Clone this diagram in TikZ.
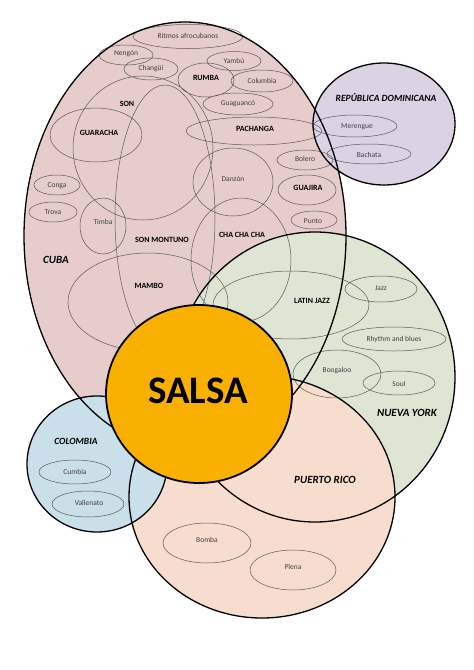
\documentclass[tikz,border=0pt]{standalone}
\usepackage{fontspec}
\setmainfont{Carlito}
\definecolor{cubapink}{RGB}{231,204,204}
\definecolor{dompurple}{RGB}{219,211,228}
\definecolor{nygreen}{RGB}{223,229,211}
\definecolor{prpeach}{RGB}{247,221,205}
\definecolor{colblue}{RGB}{201,223,233}
\definecolor{salsaorange}{RGB}{249,176,0}
\begin{document}
\begin{tikzpicture}[x=1pt,y=-1pt,
        genre/.style={draw=black!65,line width=0.5pt},
        region/.style={draw=black,line width=1.3pt},
        lab/.style={font=\fontsize{7.5}{9}\selectfont,text=black!75},
        blab/.style={font=\fontsize{8}{9}\selectfont\bfseries},
        rlab/.style={font=\fontsize{11}{13}\selectfont\bfseries\itshape},
        slab/.style={font=\fontsize{9.5}{11}\selectfont\bfseries\itshape}]
        \useasboundingbox[fill=white] (0,0) rectangle (474,670);
        % fills of the countries
        \fill[cubapink] (185,236) ellipse (161 and 214);
        \fill[dompurple] (384,124) ellipse (71 and 61);
        \fill[nygreen] (315,377) ellipse (140 and 145);
        \fill[prpeach] (262,497) ellipse (133 and 121);
        \fill[colblue] (97,464) ellipse (70 and 68);
        % genres
        \draw[genre] (188,36.5) ellipse (55 and 12) (126,55) ellipse (27 and 10) (151,69) ellipse (27 and 11)
            (234,61) ellipse (27 and 9.5) (206,80) ellipse (28 and 17) (262,81) ellipse (31 and 11)
            (238,104) ellipse (35 and 11) (254,131) ellipse (68 and 14) (305,160) ellipse (28 and 10)
            (96,135) ellipse (46 and 27) (143,148) ellipse (70 and 72) (165,218) ellipse (50 and 133)
            (57,185) ellipse (23 and 10) (53,212) ellipse (24 and 10) (103,226) ellipse (23 and 28)
            (233,182) ellipse (40 and 34) (307,190) ellipse (29 and 15) (314,220) ellipse (23 and 9)
            (241,260) ellipse (50 and 62) (148,302) ellipse (80 and 49);
        \draw[genre] (291,305) ellipse (78 and 34) (381,289) ellipse (36 and 13) (394,339) ellipse (52 and 12)
            (337,374) ellipse (44 and 24) (399,383) ellipse (36 and 12);
        \draw[genre] (355,126) ellipse (42 and 11) (369,154) ellipse (42 and 10);
        \draw[genre] (75,472) ellipse (36 and 12) (88,504) ellipse (36 and 13);
        \draw[genre] (207,543) ellipse (44 and 20) (293,570) ellipse (43 and 20);
        % outlines of the countries
        \draw[region] (185,236) ellipse (161 and 214) (384,124) ellipse (71 and 61) (315,377) ellipse (140 and 145)
            (262,497) ellipse (133 and 121) (97,464) ellipse (70 and 68);
        \filldraw[salsaorange,draw=black,line width=1.8pt] (199,394) ellipse (93 and 89);
        % labels
        \node[lab] (ritmos) at (188,36) {Ritmos afrocubanos};
        \node[lab] (nengon) at (126,54) {Nengón};
        \node[lab] (changui) at (151,69) {Changüí};
        \node[lab] (yambu) at (234,61) {Yambú};
        \node[blab] (rumba) at (206,78) {RUMBA};
        \node[lab] (columbia) at (262,81) {Columbia};
        \node[blab] (son) at (127,104) {SON};
        \node[lab] (guaguanco) at (238,104) {Guaguancó};
        \node[blab] (guaracha) at (99,133) {GUARACHA};
        \node[blab] (pachanga) at (255,129) {PACHANGA};
        \node[lab] (bolero) at (305,159) {Bolero};
        \node[lab] (danzon) at (233,179) {Danzón};
        \node[lab] (conga) at (57,186) {Conga};
        \node[blab] (guajira) at (308,188) {GUAJIRA};
        \node[lab] (trova) at (53,212) {Trova};
        \node[lab] (punto) at (313,221) {Punto};
        \node[lab] (timba) at (103,222) {Timba};
        \node[blab] (sonmontuno) at (162,240) {SON MONTUNO};
        \node[blab] (chachacha) at (242,235) {CHA CHA CHA};
        \node[rlab] (cuba) at (56,260) {CUBA};
        \node[blab] (mambo) at (149,286) {MAMBO};
        \node[slab] (repdom) at (386,98) {REPÚBLICA DOMINICANA};
        \node[lab] (merengue) at (357,127) {Merengue};
        \node[lab] (bachata) at (369,155) {Bachata};
        \node[blab] (latinjazz) at (312,301) {LATIN JAZZ};
        \node[lab] (jazz) at (381,288) {Jazz};
        \node[lab] (rhythm) at (394,339) {Rhythm and blues};
        \node[lab] (boogaloo) at (337,371) {Boogaloo};
        \node[lab] (soul) at (399,384) {Soul};
        \node[rlab] (nuevayork) at (407,413) {NUEVA YORK};
        \node[slab] (colombia) at (76,441) {COLOMBIA};
        \node[lab] (cumbia) at (75,472) {Cumbia};
        \node[lab] (vallenato) at (89,503) {Vallenato};
        \node[rlab] (puertorico) at (325,480) {PUERTO RICO};
        \node[lab] (bomba) at (207,540) {Bomba};
        \node[lab] (plena) at (293,567) {Plena};
        \node[font=\fontsize{39}{44}\selectfont\bfseries] (salsa) at (198,391) {SALSA};
        \end{tikzpicture}
\end{document}
